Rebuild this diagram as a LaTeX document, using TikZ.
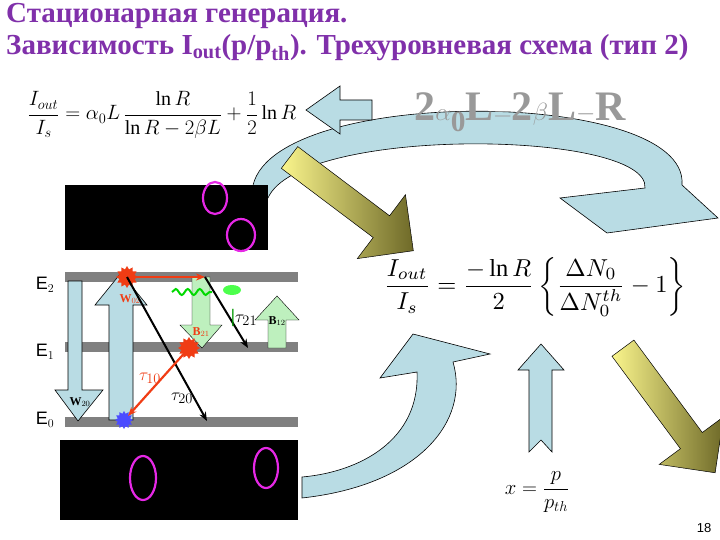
\documentclass[tikz,border=0pt]{standalone}
\usepackage{fontspec}
\setmainfont{Liberation Serif}
\setsansfont{Liberation Sans}
\usetikzlibrary{shapes.arrows,shapes.geometric,decorations.pathmorphing,arrows.meta}
\definecolor{ttl}{RGB}{128,48,170}
\definecolor{lblue}{RGB}{185,220,228}
\definecolor{lgreen}{RGB}{190,240,190}
\definecolor{lvl}{RGB}{128,128,128}
\definecolor{ylw}{RGB}{250,245,140}
\definecolor{olv}{RGB}{110,105,40}
\definecolor{mag}{RGB}{230,40,230}
\definecolor{rd}{RGB}{240,60,20}
\tikzset{
 bluearr/.style={fill=lblue,draw=black,line width=0.6pt},
 greenarr/.style={fill=lgreen,draw=black,line width=0.4pt},
 yarr/.style={single arrow,draw=black,line width=0.5pt,shading=axis,left color=ylw,right color=olv,single arrow head extend=16pt},
 level/.style={fill=lvl,draw=none},
 ring/.style={draw=mag,line width=2.2pt},
 elab/.style={font=\sffamily\fontsize{18}{18}\selectfont},
 blk/.style={-{Stealth[length=9pt,width=7pt]},line width=2pt,black},
 redarr/.style={-{Stealth[length=9pt,width=7pt]},line width=2.2pt,rd},
 burst/.style={star,star points=12,star point ratio=1.4,minimum size=22pt,inner sep=0pt,fill=rd}
}
\begin{document}
\begin{tikzpicture}[x=1pt,y=-1pt]
\useasboundingbox (0,0) rectangle (720,540);
\fill[white] (0,0) rectangle (720,540);
% titles
\node[anchor=west,text=ttl,font=\bfseries\fontsize{29}{29}\selectfont,inner sep=0] (t1) at (6,16) {Стационарная генерация.};
\node[anchor=west,text=ttl,font=\bfseries\fontsize{29}{29}\selectfont,inner sep=0] (t2) at (6,48) {Зависимость I\textsubscript{out}(p/p\textsubscript{th}). Трехуровневая схема (тип 2)};
% big top curved arrow
\path[bluearr] (252,195) .. controls (250,85) and (690,85) .. (682,185) -- (718,218) -- (607,233) -- (560,198) -- (645,188)
  .. controls (650,130) and (300,125) .. (268,198) -- cycle;
% gray garbled formula
\node[text=gray!80,font=\bfseries\itshape\fontsize{42}{42}\selectfont,inner sep=0] (gf) at (520,112) {$\mathbf{2\alpha_0L{=}2\beta L{-}R}$};
% top-left formula
\node[inner sep=0,font=\fontsize{20}{20}\selectfont] (f1) at (162,115) {$\displaystyle \frac{I_{out}}{I_s}=\alpha_0L\,\frac{\ln R}{\ln R-2\beta L}+\frac12\ln R$};
% left blue arrow
\path[bluearr] (306,110) -- (340,86) -- (340,100) -- (372,100) -- (372,120) -- (340,120) -- (340,134) -- cycle;
% yellow arrows
\node[yarr,minimum width=80pt,minimum height=155pt,rotate=-37,inner sep=8pt] (y1) at (346,200) {};
\node[yarr,minimum width=80pt,minimum height=155pt,rotate=-53.5,inner sep=8pt] (y2) at (665,405) {};
% black boxes
\fill[black] (65,185) rectangle (268,250);
\draw[ring] (215,198) ellipse (12 and 16);
\draw[ring] (241,235) ellipse (14 and 16);
\fill[black] (60,440) rectangle (298,520);
\draw[ring] (143,478) ellipse (13 and 22);
\draw[ring] (266,468) ellipse (12 and 20);
% levels
\fill[level] (65,272) rectangle (298,282);
\fill[level] (65,342) rectangle (298,352);
\fill[level] (65,417) rectangle (298,427);
\node[elab] (e2) at (45,285) {E$_2$};
\node[elab] (e1) at (45,352) {E$_1$};
\node[elab] (e0) at (45,420) {E$_0$};
% W20 down arrow
\path[bluearr] (68,281) -- (82,281) -- (82,390) -- (103,390) -- (78,421) -- (55,390) -- (68,390) -- cycle;
% W02 up arrow
\path[bluearr] (109,420) -- (109,305) -- (95,305) -- (121,273) -- (147,305) -- (133,305) -- (133,420) -- cycle;
\node[font=\bfseries\fontsize{12}{12}\selectfont] (w20) at (80,402) {W$_{20}$};
\node[font=\bfseries\fontsize{12}{12}\selectfont,text=rd] (w02) at (130,299) {W$_{02}$};
% B21 green
\path[greenarr] (192,277) -- (210,277) -- (210,325) -- (222,325) -- (202,348) -- (180,325) -- (192,325) -- cycle;
\node[font=\bfseries\fontsize{12}{12}\selectfont,text=rd] (b21) at (201,332) {B$_{21}$};
% B12
\path[greenarr] (268,348) -- (268,320) -- (255,320) -- (277,296) -- (299,320) -- (286,320) -- (286,348) -- cycle;
\node[font=\bfseries\fontsize{12}{12}\selectfont] (b12) at (277,321) {B$_{12}$};
% photon
\draw[green!75!black!60!green,line width=2pt,decorate,decoration={snake,amplitude=3pt,segment length=12pt}] (172,292) -- (212,292);
\fill[green!70] (232,290) ellipse (9 and 5);
% bursts
\node[burst] (s2) at (127,277) {};
\node[burst] (s1) at (189,348) {};
\node[burst,fill=blue!70,minimum size=18pt] (s0) at (124,420) {};
\coordinate (p2) at (205,277);
\coordinate (p21) at (248,348);
\coordinate (p20) at (207,421);
\coordinate (p0) at (128,416);
\draw[redarr] (s2.center) -- (p2);
\draw[blk] (p2) -- (p21);
\draw[blk] (s2.center) -- (p20);
\draw[redarr] (s1.center) -- (p0);
\node[font=\fontsize{19}{19}\selectfont] (t21) at (244,318) {\textcolor{green!60!black}{\textbf{|}}$\tau_{21}$};
\node[font=\fontsize{19}{19}\selectfont,text=rd] (t10) at (150,378) {$\tau_{10}$};
\node[font=\fontsize{19}{19}\selectfont] (t20) at (182,398) {$\tau_{20}$};
% right formula
\node[inner sep=0,scale=2.45] (f2) at (535,287) {$\displaystyle \frac{I_{out}}{I_s}=\frac{-\ln R}{2}\left\{\frac{\Delta N_0}{\Delta N_0^{th}}-1\right\}$};
% bottom curved arrow
\path[bluearr] (302,477) .. controls (360,472) and (420,440) .. (417,372) -- (380,378) -- (413,334) -- (490,354) -- (453,362)
  .. controls (470,420) and (420,485) .. (302,498) -- cycle;
% up blue arrow
\path[bluearr] (529,452) -- (529,370) -- (518,370) -- (541,344) -- (564,370) -- (552,370) -- (552,452) -- (541,440) -- cycle;
\node[inner sep=0,font=\fontsize{21}{21}\selectfont] (fx) at (537,492) {$\displaystyle x=\frac{p}{p_{th}}$};
\node[font=\sffamily\fontsize{13}{13}\selectfont] (pg) at (704,528) {18};
\end{tikzpicture}
\end{document}
